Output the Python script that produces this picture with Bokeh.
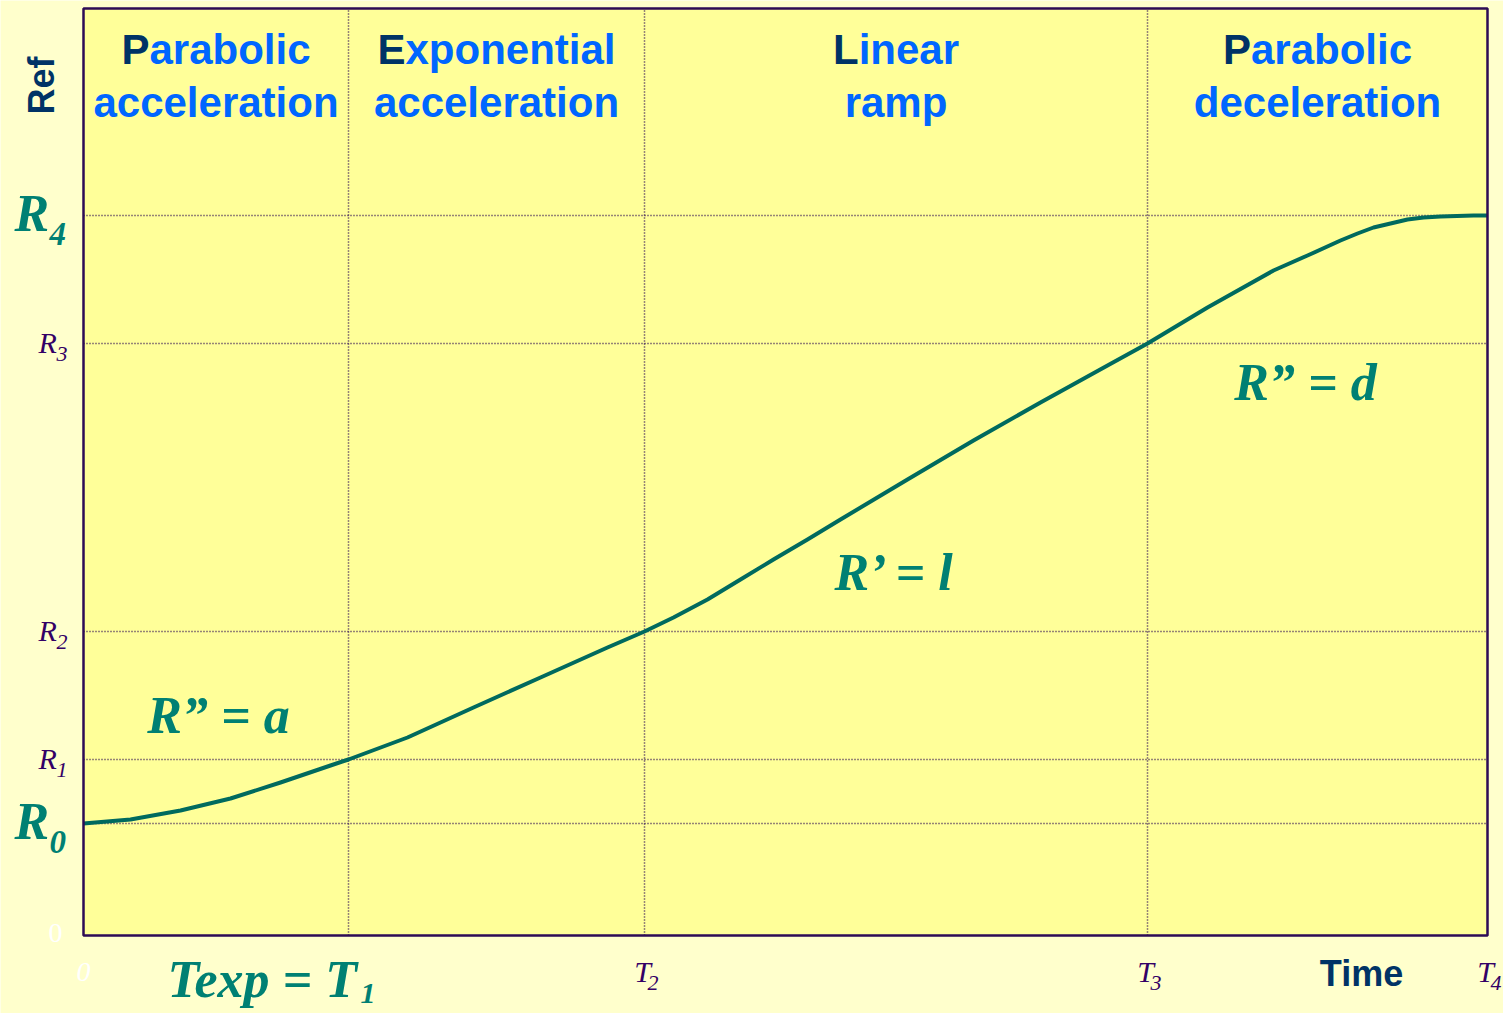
import math
from bokeh.plotting import figure
from bokeh.models import Label, Range1d
from bokeh.embed import file_html
from bokeh.resources import INLINE

# ---------------- data ----------------
t_names = ["T1", "T2", "T3", "T4"]
t_values = [2.65, 5.61, 10.64, 14.04]
r_names = ["R0", "R1", "R2", "R3", "R4"]
r_values = [1.12, 1.76, 3.04, 5.92, 7.20]

curve_t = [0.00, 0.47, 0.97, 1.47, 1.97, 2.47, 2.65,
           3.24, 3.90, 4.57, 5.24, 5.61, 5.90,
           6.24, 6.57, 6.90, 7.24, 7.57, 8.24, 8.90, 9.57, 10.24, 10.64,
           11.24, 11.90, 12.24, 12.57, 12.74, 12.90, 13.07, 13.24, 13.40, 13.57, 13.90, 14.04]
curve_r = [1.12, 1.16, 1.25, 1.37, 1.53, 1.70, 1.76,
           1.98, 2.28, 2.58, 2.88, 3.04, 3.18,
           3.36, 3.56, 3.76, 3.96, 4.16, 4.56, 4.95, 5.33, 5.70, 5.92,
           6.28, 6.65, 6.80, 6.95, 7.02, 7.08, 7.12, 7.16, 7.18, 7.19, 7.20, 7.20]

phase_line1 = ["Parabolic", "Exponential", "Linear", "Parabolic"]
phase_line2 = ["acceleration", "acceleration", "ramp", "deceleration"]

formula_texts = ["R\u201d = a", "R\u2019 = l", "R\u201d = d"]
formula_t = [1.35, 8.12, 12.22]
formula_r = [2.00, 3.43, 5.33]

# ---------------- styles ----------------
BG_OUT = "#FFFFCC"
BG_IN = "#FFFF99"
FRAME = "#2D0B55"
TEAL = "#008073"
CURVE = "#006A5E"
BLUE = "#0066FF"
NAVY = "#003366"
PURPLE = "#330066"
SANS = "Liberation Sans"
SERIF = "Liberation Serif"

W, H = 1503, 1013
PX_PER_UNIT = 100.0
LEFT_PX, BOTTOM_PX = 83, 935        # where the plotting box sits in the canvas
X_END = t_values[-1]
Y_TOP = 9.27                         # top edge of the plotting box
BASE_K = 0.38                        # baseline correction (fraction of font size)

x0 = -LEFT_PX / PX_PER_UNIT
x1 = x0 + W / PX_PER_UNIT
y0 = -(H - BOTTOM_PX) / PX_PER_UNIT
y1 = y0 + H / PX_PER_UNIT

p = figure(width=W, height=H, output_backend="svg", toolbar_location=None,
           x_range=Range1d(x0, x1), y_range=Range1d(y0, y1),
           x_axis_location=None, y_axis_location=None,
           min_border=0, background_fill_color=BG_OUT, border_fill_color=BG_OUT,
           outline_line_color=None)
p.grid.visible = False

# plotting box
p.quad(left=[0], right=[X_END], bottom=[0], top=[Y_TOP], fill_color=BG_IN, line_color=None)

# dotted grid lines
n_t = len(t_values) - 1
p.segment(x0=t_values[:-1], y0=[0] * n_t, x1=t_values[:-1], y1=[Y_TOP] * n_t,
          line_color=FRAME, line_width=1.5, line_dash="1 2")
p.segment(x0=[0] * len(r_values), y0=r_values, x1=[X_END] * len(r_values), y1=r_values,
          line_color=FRAME, line_width=1.5, line_dash="1 2")

# curve
p.line(curve_t, curve_r, line_color=CURVE, line_width=4, line_join="round")

# box outline on top
p.quad(left=[0], right=[X_END], bottom=[0], top=[Y_TOP], fill_color=None,
       line_color=FRAME, line_width=2.5)


def lab(text, x, y, size, x_offset=0, y_offset=0, angle=0, **kw):
    corr = BASE_K * size
    if angle == 0:
        y_offset = y_offset + corr
    else:
        x_offset = x_offset - corr
    p.add_layout(Label(text=text, x=x, y=y, x_offset=x_offset, y_offset=y_offset,
                       angle=angle, text_font_size=f"{size}px",
                       text_baseline="alphabetic", **kw))


# ---------- phase headers (first letter dark, rest blue) ----------
AW = {'P': 667, 'E': 667, 'L': 611, 'a': 556, 'r': 389, 'b': 611, 'o': 611, 'l': 278,
      'i': 278, 'c': 556, 'x': 556, 'p': 611, 'n': 611, 'e': 556, 't': 333, 'm': 889,
      'd': 611, 'g': 611, 's': 556}
HS = 42


def tw(s, size):
    return sum(AW.get(c, 556) for c in s) / 1000.0 * size


bounds = [0.0] + t_values
for i, (w1, w2) in enumerate(zip(phase_line1, phase_line2)):
    cx = (bounds[i] + bounds[i + 1]) / 2.0
    total = tw(w1, HS)
    first, rest = w1[0], w1[1:]
    common = dict(text_font=SANS, text_font_style="bold", text_align="left")
    lab(first, cx, Y_TOP, HS, x_offset=-total / 2, y_offset=-57, text_color=NAVY, **common)
    lab(rest, cx, Y_TOP, HS, x_offset=-total / 2 + tw(first, HS), y_offset=-57,
        text_color=BLUE, **common)
    lab(w2, cx, Y_TOP, HS, y_offset=-110, text_color=BLUE, text_font=SANS,
        text_font_style="bold", text_align="center")

# ---------- formulas ----------
for txt, ft, fr in zip(formula_texts, formula_t, formula_r):
    lab(txt, ft, fr, 52, text_font=SERIF, text_font_style="bold italic",
        text_color=TEAL, text_align="center")

# ---------- y labels (R0..R4) ----------
for name, rv in zip(r_names, r_values):
    sub = name[1:]
    if name in ("R0", "R4"):
        lab("R", 0, rv, 52, x_offset=-69, y_offset=-18, text_font=SERIF,
            text_font_style="bold italic", text_color=TEAL, text_align="left")
        lab(sub, 0, rv, 33, x_offset=-34, y_offset=-31, text_font=SERIF,
            text_font_style="bold italic", text_color=TEAL, text_align="left")
    else:
        lab("R", 0, rv, 30, x_offset=-45, y_offset=-10, text_font=SERIF,
            text_font_style="italic", text_color=PURPLE, text_align="left")
        lab(sub, 0, rv, 22, x_offset=-27, y_offset=-19, text_font=SERIF,
            text_font_style="italic", text_color=PURPLE, text_align="left")

# white zeros
lab("0", 0, 0, 28, x_offset=-21, y_offset=-8, text_font=SERIF,
    text_color="white", text_align="right")
lab("0", 0, 0, 28, x_offset=0, y_offset=-47, text_font=SERIF, text_font_style="italic",
    text_color="white", text_align="center")

# ---------- x labels (T2..T4) ----------
for name, tv in zip(t_names[1:], t_values[1:]):
    lab("T", tv, 0, 30, x_offset=-2, y_offset=-47, text_font=SERIF,
        text_font_style="italic", text_color=PURPLE, text_align="center")
    lab(name[1:], tv, 0, 22, x_offset=3, y_offset=-56, text_font=SERIF,
        text_font_style="italic", text_color=PURPLE, text_align="left")

# Texp = T1
lab("Texp = T", t_values[0], 0, 52, x_offset=-181, y_offset=-64, text_font=SERIF,
    text_font_style="bold italic", text_color=TEAL, text_align="left")
lab("1", t_values[0], 0, 30, x_offset=12, y_offset=-69, text_font=SERIF,
    text_font_style="bold italic", text_color=TEAL, text_align="left")

# axis titles
lab("Time", X_END, 0, 36, x_offset=-126, y_offset=-52, text_font=SANS,
    text_font_style="bold", text_color=NAVY, text_align="center")
lab("Ref", 0, Y_TOP, 36, x_offset=-28, y_offset=-77, angle=math.pi / 2, text_font=SANS,
    text_font_style="bold", text_color=NAVY, text_align="center")

open("out.html", "w").write(file_html(p, INLINE))
